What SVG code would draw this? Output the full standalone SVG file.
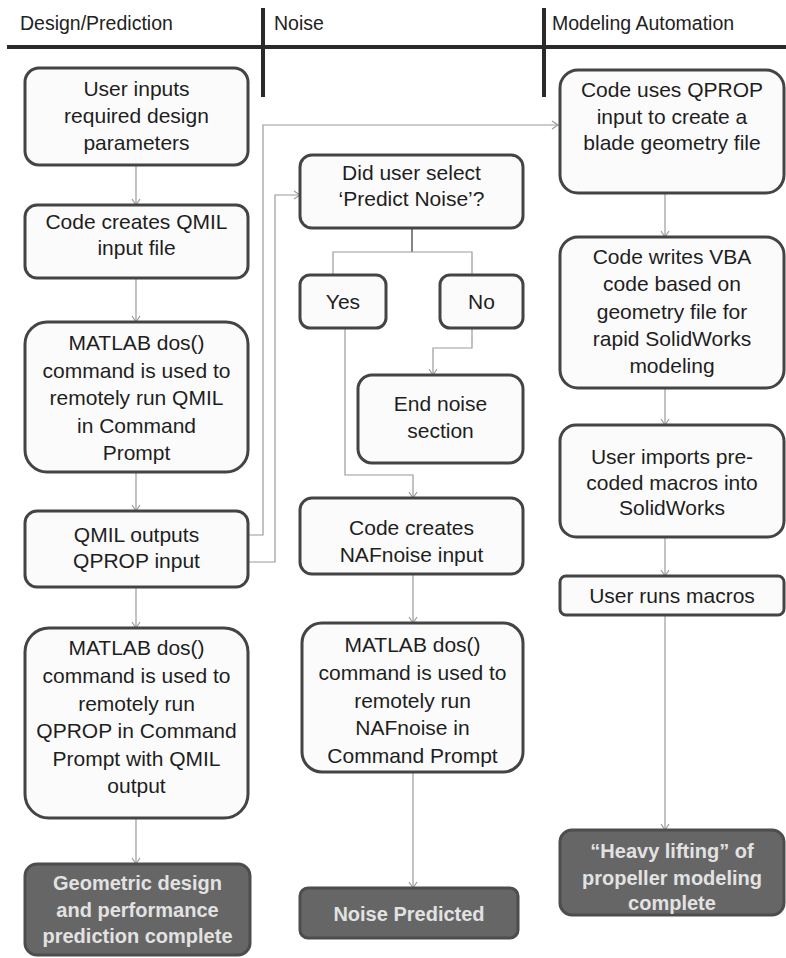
<svg xmlns="http://www.w3.org/2000/svg" width="786" height="958" viewBox="0 0 786 958">
<defs>
<style>
.hdr{font-family:"Liberation Sans",Arial,sans-serif;font-size:19.5px;fill:#222}
.box{fill:#fbfbfb;stroke:#444;stroke-width:3}
.dark{fill:#666;stroke:#4d4d4d;stroke-width:3}
.t{font-family:"Liberation Sans",Arial,sans-serif;font-size:21px;fill:#1e1e1e;text-anchor:middle}
.td{font-family:"Liberation Sans",Arial,sans-serif;font-size:20px;font-weight:bold;fill:#e2e2e2;text-anchor:middle}
.c{fill:none;stroke:#9a9a9a;stroke-width:1.2}
.rule{stroke:#2a2a2a;stroke-width:4;fill:none}
</style>
<marker id="ah" markerUnits="userSpaceOnUse" markerWidth="12" markerHeight="12" refX="9" refY="6" orient="auto">
<path d="M3,2 L9,6 L3,10" fill="none" stroke="#9a9a9a" stroke-width="1.2"/>
</marker>
</defs>
<rect width="786" height="958" fill="#ffffff"/>
<g id="header">
<line class="rule" x1="7" y1="47" x2="786" y2="47"/>
<line class="rule" x1="263" y1="8" x2="263" y2="97"/>
<line class="rule" x1="544" y1="8" x2="544" y2="97"/>
<text class="hdr" x="20" y="30">Design/Prediction</text>
<text class="hdr" x="274" y="30">Noise</text>
<text class="hdr" x="552" y="30">Modeling Automation</text>
</g>
<g id="connectors">
<path class="c" d="M136,165 V205" marker-end="url(#ah)"/>
<path class="c" d="M136,278 V322" marker-end="url(#ah)"/>
<path class="c" d="M136,472 V511" marker-end="url(#ah)"/>
<path class="c" d="M136,587 V628" marker-end="url(#ah)"/>
<path class="c" d="M136,818 V864" marker-end="url(#ah)"/>
<path class="c" d="M249,535 H263 V125 H558" marker-end="url(#ah)"/>
<path class="c" d="M249,562 H275 V195 H300" marker-end="url(#ah)"/>
<path d="M412,228 V252" fill="none" stroke="#666" stroke-width="1.6"/>
<path class="c" d="M333,275 V252 H472 V275"/>
<path class="c" d="M472,328 V348 H433 V375" marker-end="url(#ah)"/>
<path class="c" d="M345,328 V475 H413 V498" marker-end="url(#ah)"/>
<path class="c" d="M413,574 V623" marker-end="url(#ah)"/>
<path class="c" d="M413,772 V888" marker-end="url(#ah)"/>
<path class="c" d="M665,193 V237" marker-end="url(#ah)"/>
<path class="c" d="M665,388 V425" marker-end="url(#ah)"/>
<path class="c" d="M665,537 V576" marker-end="url(#ah)"/>
<path class="c" d="M665,615 V830" marker-end="url(#ah)"/>
</g>
<g id="n1"><rect class="box" x="25" y="68" width="223" height="97" rx="14"/>
<text class="t" x="136.5" y="96">User inputs</text><text class="t" x="136.5" y="123">required design</text><text class="t" x="136.5" y="150">parameters</text></g>
<g id="n2"><rect class="box" x="25" y="205" width="223" height="73" rx="12"/>
<text class="t" x="136.5" y="229">Code creates QMIL</text><text class="t" x="136.5" y="255">input file</text></g>
<g id="n3"><rect class="box" x="25" y="322" width="223" height="150" rx="22"/>
<text class="t" x="136.5" y="350">MATLAB dos()</text><text class="t" x="136.5" y="378">command is used to</text><text class="t" x="136.5" y="405">remotely run QMIL</text><text class="t" x="136.5" y="433">in Command</text><text class="t" x="136.5" y="460">Prompt</text></g>
<g id="n4"><rect class="box" x="25" y="511" width="223" height="76" rx="12"/>
<text class="t" x="136.5" y="542">QMIL outputs</text><text class="t" x="136.5" y="568">QPROP input</text></g>
<g id="n5"><rect class="box" x="25" y="628" width="223" height="190" rx="24"/>
<text class="t" x="136.5" y="655">MATLAB dos()</text><text class="t" x="136.5" y="683">command is used to</text><text class="t" x="136.5" y="711">remotely run</text><text class="t" x="136.5" y="738">QPROP in Command</text><text class="t" x="136.5" y="766">Prompt with QMIL</text><text class="t" x="136.5" y="793">output</text></g>
<g id="n6"><rect class="dark" x="25" y="864" width="225" height="91" rx="12"/>
<text class="td" x="137.5" y="890">Geometric design</text><text class="td" x="137.5" y="917">and performance</text><text class="td" x="137.5" y="943">prediction complete</text></g>
<g id="d1"><rect class="box" x="300" y="155" width="223" height="73" rx="12"/>
<text class="t" x="411.5" y="180">Did user select</text><text class="t" x="411.5" y="206">‘Predict Noise’?</text></g>
<g id="yes"><rect class="box" x="300" y="275" width="86" height="53" rx="10"/>
<text class="t" x="343" y="309">Yes</text></g>
<g id="no"><rect class="box" x="440" y="275" width="83" height="53" rx="10"/>
<text class="t" x="481.5" y="309">No</text></g>
<g id="endnoise"><rect class="box" x="358" y="375" width="165" height="88" rx="14"/>
<text class="t" x="440.5" y="411">End noise</text><text class="t" x="440.5" y="438">section</text></g>
<g id="n7"><rect class="box" x="300" y="498" width="223" height="76" rx="12"/>
<text class="t" x="411.5" y="535">Code creates</text><text class="t" x="411.5" y="562">NAFnoise input</text></g>
<g id="n8"><rect class="box" x="302" y="623" width="221" height="149" rx="20"/>
<text class="t" x="412.5" y="652">MATLAB dos()</text><text class="t" x="412.5" y="680">command is used to</text><text class="t" x="412.5" y="708">remotely run</text><text class="t" x="412.5" y="735">NAFnoise in</text><text class="t" x="412.5" y="763">Command Prompt</text></g>
<g id="n9"><rect class="dark" x="300" y="888" width="218" height="50" rx="8"/>
<text class="td" x="409" y="921">Noise Predicted</text></g>
<g id="m1"><rect class="box" x="560" y="70" width="224" height="123" rx="18"/>
<text class="t" x="672" y="97">Code uses QPROP</text><text class="t" x="672" y="124">input to create a</text><text class="t" x="672" y="150">blade geometry file</text></g>
<g id="m2"><rect class="box" x="560" y="237" width="224" height="151" rx="18"/>
<text class="t" x="672" y="264">Code writes VBA</text><text class="t" x="672" y="291">code based on</text><text class="t" x="672" y="319">geometry file for</text><text class="t" x="672" y="346">rapid SolidWorks</text><text class="t" x="672" y="373">modeling</text></g>
<g id="m3"><rect class="box" x="560" y="425" width="224" height="112" rx="16"/>
<text class="t" x="672" y="464">User imports pre-</text><text class="t" x="672" y="490">coded macros into</text><text class="t" x="672" y="515">SolidWorks</text></g>
<g id="m4"><rect class="box" x="560" y="576" width="224" height="39" rx="6"/>
<text class="t" x="672" y="603">User runs macros</text></g>
<g id="m5"><rect class="dark" x="560" y="830" width="224" height="85" rx="12"/>
<text class="td" x="672" y="858">“Heavy lifting” of</text><text class="td" x="672" y="885">propeller modeling</text><text class="td" x="672" y="910">complete</text></g>
</svg>
